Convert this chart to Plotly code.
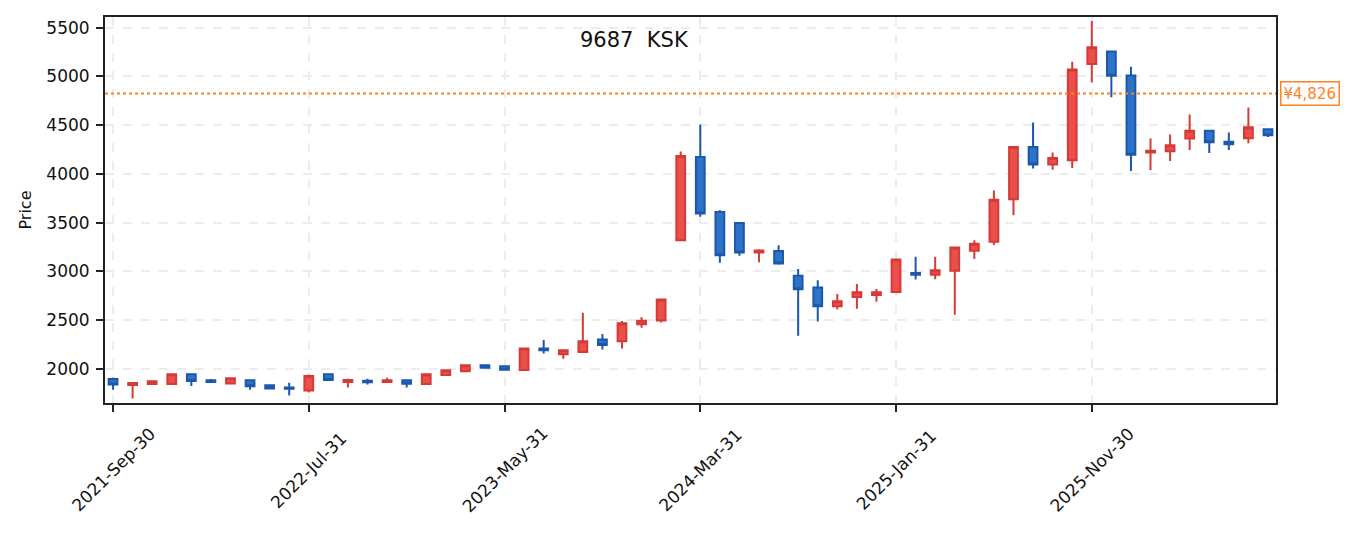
import pandas as pd
import plotly.graph_objects as go

# monthly bars, month-end dates
dates = pd.date_range("2021-09-30", periods=60, freq="ME").strftime("%Y-%b-%d").tolist()

open_ = [1895, 1835, 1845, 1846, 1945, 1884, 1850, 1884, 1833, 1810,
         1778, 1945, 1866, 1877, 1865, 1884, 1846, 1936, 1977, 2038,
         2028, 1988, 2210, 2150, 2174, 2302, 2283, 2457, 2497, 3320,
         4173, 3610, 3497, 3195, 3210, 2955, 2835, 2643, 2738, 2757,
         2790, 2984, 2965, 3008, 3212, 3303, 3740, 4276, 4097, 4140,
         5127, 5255, 5010, 4220, 4232, 4364, 4443, 4330, 4365, 4458]
high = [1910, 1865, 1876, 1956, 1950, 1897, 1908, 1886, 1835, 1857,
        1942, 1950, 1900, 1898, 1908, 1886, 1946, 1988, 2038, 2042,
        2030, 2212, 2297, 2195, 2576, 2358, 2490, 2530, 2714, 4230,
        4507, 3627, 3498, 3228, 3268, 3024, 2910, 2768, 2870, 2819,
        3124, 3150, 3150, 3248, 3320, 3830, 4278, 4528, 4221, 5150,
        5568, 5257, 5099, 4364, 4405, 4609, 4445, 4425, 4681, 4460]
low = [1785, 1695, 1842, 1835, 1825, 1862, 1840, 1786, 1790, 1728,
       1758, 1880, 1810, 1840, 1862, 1810, 1845, 1935, 1976, 2010,
       1988, 1987, 2157, 2105, 2172, 2198, 2208, 2422, 2475, 3318,
       3560, 3088, 3160, 3095, 3068, 2341, 2485, 2608, 2617, 2690,
       2782, 2918, 2920, 2555, 3127, 3270, 3575, 4055, 4042, 4062,
       4939, 4786, 4031, 4041, 4133, 4245, 4215, 4245, 4316, 4378]
close = [1840, 1855, 1872, 1945, 1875, 1866, 1905, 1823, 1800, 1795,
         1928, 1885, 1885, 1862, 1884, 1848, 1945, 1986, 2037, 2012,
         1990, 2210, 2190, 2190, 2283, 2245, 2467, 2495, 2712, 4183,
         3593, 3167, 3195, 3214, 3082, 2817, 2642, 2693, 2785, 2785,
         3122, 2965, 3012, 3245, 3285, 3735, 4276, 4096, 4163, 5071,
         5300, 5007, 4198, 4237, 4295, 4443, 4325, 4305, 4480, 4398]

last_price = 4826
title = "9687  KSK"
tick_idx = [0, 10, 20, 30, 40, 50]

FONT = "DejaVu Sans"
ORANGE = "#ff8124"

fig = go.Figure(
    go.Candlestick(
        x=dates,
        open=open_,
        high=high,
        low=low,
        close=close,
        increasing=dict(line=dict(color="#d63a36", width=2), fillcolor="#e9504b"),
        decreasing=dict(line=dict(color="#1b57ad", width=2), fillcolor="#2d74c9"),
        showlegend=False,
    )
)

# last price line + label
fig.add_shape(
    type="line", xref="paper", yref="y", x0=0, x1=1, y0=last_price, y1=last_price,
    line=dict(color=ORANGE, width=2, dash="dot"),
)
fig.add_annotation(
    xref="paper", yref="y", x=1.0035, y=last_price, xanchor="left",
    text=f"¥{last_price:,}", showarrow=False,
    font=dict(family=FONT, size=15, color=ORANGE),
    bgcolor="white", bordercolor=ORANGE, borderwidth=1.5, borderpad=2,
)
fig.add_annotation(
    xref="paper", yref="paper", x=0.452, y=0.977, yanchor="top",
    text=title, showarrow=False,
    font=dict(family=FONT, size=21, color="#111"),
)

# rotated date labels centred under their ticks
for i in tick_idx:
    fig.add_annotation(
        xref="x", yref="paper", x=dates[i], y=-0.173,
        xanchor="center", yanchor="middle",
        text=dates[i], textangle=-45, showarrow=False,
        font=dict(family=FONT, size=17, color="#111"),
    )

axis_common = dict(
    showline=True, linecolor="#222", linewidth=2, mirror=True,
    ticks="outside", ticklen=7, tickwidth=2, tickcolor="#222",
    showgrid=True, gridcolor="#ececec", griddash="dash", gridwidth=1.5,
    zeroline=False,
    tickfont=dict(family=FONT, size=17, color="#111"),
)

fig.update_layout(
    width=1347, height=525,
    margin=dict(l=97, r=79, t=7, b=130),
    paper_bgcolor="white", plot_bgcolor="white",
    boxgap=0.36,
    font=dict(family=FONT),
    xaxis=dict(
        type="category",
        rangeslider=dict(visible=False),
        tickmode="array",
        tickvals=[dates[i] for i in tick_idx],
        showticklabels=False,
        range=[-0.41, 59.41],
        **axis_common,
    ),
    yaxis=dict(
        title=dict(text="Price", font=dict(family=FONT, size=16, color="#111"), standoff=11),
        range=[1650, 5610],
        tickvals=[2000, 2500, 3000, 3500, 4000, 4500, 5000, 5500],
        ticklabelstandoff=3,
        **axis_common,
    ),
)

fig.write_html("out.html")
